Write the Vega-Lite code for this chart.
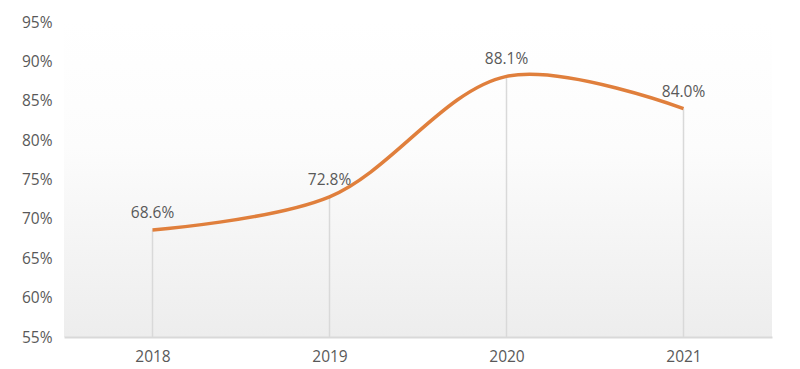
{
  "$schema": "https://vega.github.io/schema/vega-lite/v6.json",
  "width": 708,
  "height": 315,
  "autosize": "none",
  "padding": {"left": 64, "top": 22, "right": 28, "bottom": 32},
  "background": "#ffffff",
  "config": {
    "view": {
      "stroke": null,
      "fill": {"gradient": "linear", "x1": 0, "y1": 0, "x2": 0, "y2": 1, "stops": [{"offset": 0, "color": "#ffffff"}, {"offset": 0.4, "color": "#fcfcfc"}, {"offset": 1, "color": "#ededed"}]}
    },
    "font": "Open Sans",
    "axis": {"labelFont": "Open Sans", "labelFontSize": 15.5, "labelColor": "#595959", "grid": false, "ticks": false, "title": null}
  },
  "data": {"values": [
    {"year": "2018", "rate": 68.6},
    {"year": "2019", "rate": 72.8},
    {"year": "2020", "rate": 88.1},
    {"year": "2021", "rate": 84.0}
  ]},
  "encoding": {
    "x": {"field": "year", "type": "ordinal", "scale": {"type": "point", "padding": 0.5},
      "axis": {"labelAngle": 0, "domain": true, "domainColor": "#d9d9d9", "domainWidth": 2, "labelPadding": 12}},
    "y": {"field": "rate", "type": "quantitative", "scale": {"domain": [55, 95], "nice": false, "zero": false},
      "axis": {"values": [55, 60, 65, 70, 75, 80, 85, 90, 95], "labelExpr": "datum.value + '%'", "domain": false, "labelPadding": 12}}
  },
  "layer": [
    {"mark": {"type": "rule", "color": "#d9d9d9", "strokeWidth": 1.5},
     "encoding": {"y2": {"datum": 55}}},
    {"mark": {"type": "line", "interpolate": "catmull-rom", "color": "#e07f3c", "strokeWidth": 3.5}},
    {"mark": {"type": "text", "dy": -17, "fontSize": 15.5, "color": "#595959", "font": "Open Sans",
      "text": {"expr": "format(datum.rate, '.1f') + '%'"}}}
  ]
}
